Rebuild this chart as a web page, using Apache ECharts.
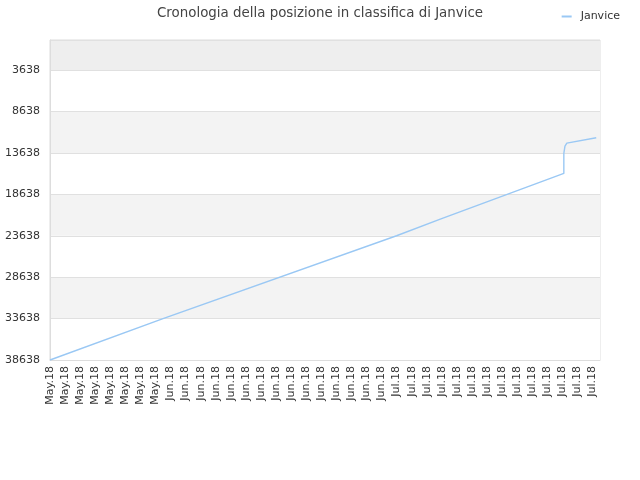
<!DOCTYPE html>
<html lang="it">
<head>
<meta charset="UTF-8">
<title>Cronologia della posizione in classifica di Janvice</title>
<script src="https://cdn.jsdelivr.net/npm/echarts@6/dist/echarts.min.js"></script>
<style>
  html, body { margin: 0; padding: 0; background: #fff; }
  #main { width: 640px; height: 480px; }
</style>
</head>
<body>
<div id="main"></div>
<script type="text/javascript">
// labels of the x axis, one per day
var mayDays = 16, junDays = 30, julDays = 28;
var dayLabels = [];
for (var i = 0; i < mayDays; i++) dayLabels.push('May.18');
for (var i = 0; i < junDays; i++) dayLabels.push('Jun.18');
for (var i = 0; i < julDays; i++) dayLabels.push('Jul.18');

// readings: day position and rank (1 = best)
var dayPos = [0, 15.0, 46.0, 51.8, 68.2, 68.2, 68.35, 68.6, 72.5];
var rank   = [38638, 33638, 23638, 21620, 16105, 13700, 12810, 12450, 11810];

var worstRank = 38638;
var bestRank = 1;
var rankStep = 5000;

// the axis counts from the bottom (worst rank) upwards
var seriesData = dayPos.map(function (d, i) {
  return [d, worstRank - rank[i]];
});

var myChart = echarts.init(document.getElementById('main'));
var option = {
  animation: false,
  textStyle: { fontFamily: 'DejaVu Sans' },
  title: {
    text: 'Cronologia della posizione in classifica di Janvice',
    left: 'center',
    top: 2,
    textStyle: { fontSize: 13.4, fontWeight: 'normal', color: '#444' }
  },
  legend: {
    data: ['Janvice'],
    right: 15,
    top: 6,
    icon: 'rect',
    itemWidth: 10,
    itemHeight: 2,
    itemGap: 10,
    textStyle: { fontSize: 11, color: '#333', padding: [0, 0, 0, 4] }
  },
  grid: {
    left: 50, right: 40, top: 40, bottom: 120,
    show: true,
    borderColor: '#dddddd',
    borderWidth: 1,
    containLabel: false
  },
  xAxis: {
    type: 'value',
    min: 0,
    max: dayLabels.length - 1,
    interval: 2,
    axisLine: { show: true, lineStyle: { color: '#dddddd' } },
    axisTick: { show: false },
    splitLine: { show: false },
    axisLabel: {
      rotate: 90,
      fontSize: 11,
      color: '#333',
      margin: 6,
      showMaxLabel: false,
      formatter: function (v) { return dayLabels[v] || ''; }
    }
  },
  yAxis: {
    type: 'value',
    min: 0,
    max: worstRank - bestRank,
    interval: rankStep,
    axisLine: { show: true, lineStyle: { color: '#dddddd' } },
    axisTick: { show: false },
    splitLine: { show: true, lineStyle: { color: '#e0e0e0' } },
    splitArea: {
      show: true,
      areaStyle: {
        color: ['#ffffff', '#f3f3f3', '#ffffff', '#f3f3f3', '#ffffff', '#f3f3f3', '#ffffff', '#eeeeee']
      }
    },
    axisLabel: {
      fontSize: 11,
      color: '#333',
      margin: 10,
      showMaxLabel: false,
      formatter: function (v) { return String(worstRank - v); }
    }
  },
  series: [{
    name: 'Janvice',
    type: 'line',
    data: seriesData,
    showSymbol: false,
    symbol: 'none',
    color: '#9ac8f4',
    lineStyle: { width: 1.4, color: '#9ac8f4' }
  }]
};
myChart.setOption(option);
</script>
</body>
</html>
